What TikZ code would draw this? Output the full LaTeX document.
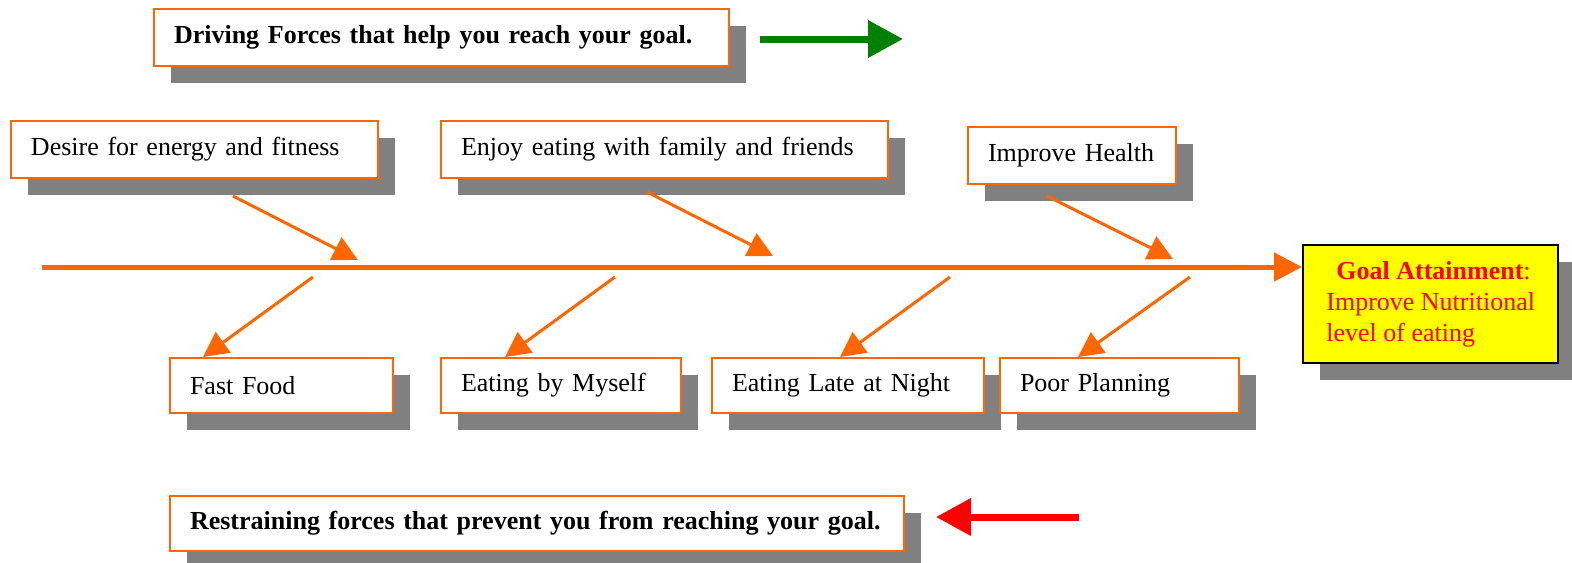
\documentclass[tikz,border=0pt]{standalone}
\usepackage{fontspec}
\setmainfont{Liberation Serif}
\usetikzlibrary{arrows.meta,shadows}
\definecolor{fishorange}{HTML}{FF6600}
\definecolor{shadowgray}{HTML}{808080}
\definecolor{drivegreen}{HTML}{008000}
\definecolor{goalyellow}{HTML}{FFFF00}
\tikzset{
  boxshadow/.style={drop shadow={shadow xshift=8.5pt,shadow yshift=-8.5pt,fill=shadowgray,opacity=1}},
  forcebox/.style={draw=fishorange,line width=1pt,fill=white,anchor=north west,align=left,
    inner xsep=10pt,inner ysep=0pt,boxshadow},
  bone/.style={draw=fishorange,line width=1.5pt,-{Triangle[length=12.5pt,width=12.5pt]}},
  bigarrow/.style={line width=3.5pt,-{Triangle[length=17.5pt,width=18pt]}},
}
\begin{document}
\begin{tikzpicture}[x=0.5pt,y=-0.5pt,every node/.style={font=\fontsize{13}{15.5}\selectfont}]
  \useasboundingbox (0,0) rectangle (1572,562);
  % legend boxes
  \node[forcebox,text width=267.5pt,minimum height=28.5pt] (driving) at (153,8)
    {\textbf{Driving Forces that help you reach your goal.}};
  \node[forcebox,text width=347pt,minimum height=27.5pt] (restrain) at (169,495)
    {\textbf{Restraining forces that prevent you from reaching your goal.}};
  \coordinate (gtail) at (760,39);
  \coordinate (ghead) at (903,39);
  \draw[bigarrow,drivegreen] (gtail) -- (ghead);
  \coordinate (rtail) at (1079,517);
  \coordinate (rhead) at (936,517);
  \draw[bigarrow,red] (rtail) -- (rhead);
  % driving forces
  \node[forcebox,text width=163.5pt,minimum height=28.5pt] (desire) at (10,120) {Desire for energy and fitness};
  \node[forcebox,text width=203.5pt,minimum height=28.5pt] (enjoy) at (440,120) {Enjoy eating with family and friends};
  \node[forcebox,text width=84pt,minimum height=28.5pt] (health) at (967,126) {Improve Health};
  % restraining forces
  \node[forcebox,text width=91.5pt,minimum height=27.5pt] (fast) at (169,357) {Fast Food};
  \node[forcebox,text width=100pt,minimum height=27.5pt] (myself) at (440,357) {Eating by Myself};
  \node[forcebox,text width=116pt,minimum height=27.5pt] (late) at (711,357) {Eating Late at Night};
  \node[forcebox,text width=99.5pt,minimum height=27.5pt] (planning) at (999,357) {Poor Planning};
  % goal
  \node[draw=black,line width=1.2pt,fill=goalyellow,text=red,anchor=north west,align=left,
    inner sep=0pt,minimum width=127.5pt,minimum height=59pt,boxshadow] (goal) at (1302,244)
    {\hspace*{5pt}\textbf{Goal Attainment}:\\Improve Nutritional\\level of eating};
  % spine
  \coordinate (tail) at (42,267);
  \draw[fishorange,line width=2.5pt,-{Triangle[length=14pt,width=14pt]}] (tail) -- (tail -| goal.west);
  % upper bones
  \coordinate (u1) at (233,196);
  \coordinate (u2) at (647,192);
  \coordinate (u3) at (1047,196);
  \draw[bone] (u1) -- (358,260);
  \draw[bone] (u2) -- (773,256);
  \draw[bone] (u3) -- (1173,259);
  % lower bones
  \coordinate (l1) at (313,277);
  \coordinate (l2) at (615,277);
  \coordinate (l3) at (950,277);
  \coordinate (l4) at (1190,277);
  \draw[bone] (l1) -- (203,0 |- fast.north);
  \draw[bone] (l2) -- (505,0 |- myself.north);
  \draw[bone] (l3) -- (840,0 |- late.north);
  \draw[bone] (l4) -- (1078,0 |- planning.north);
\end{tikzpicture}
\end{document}
